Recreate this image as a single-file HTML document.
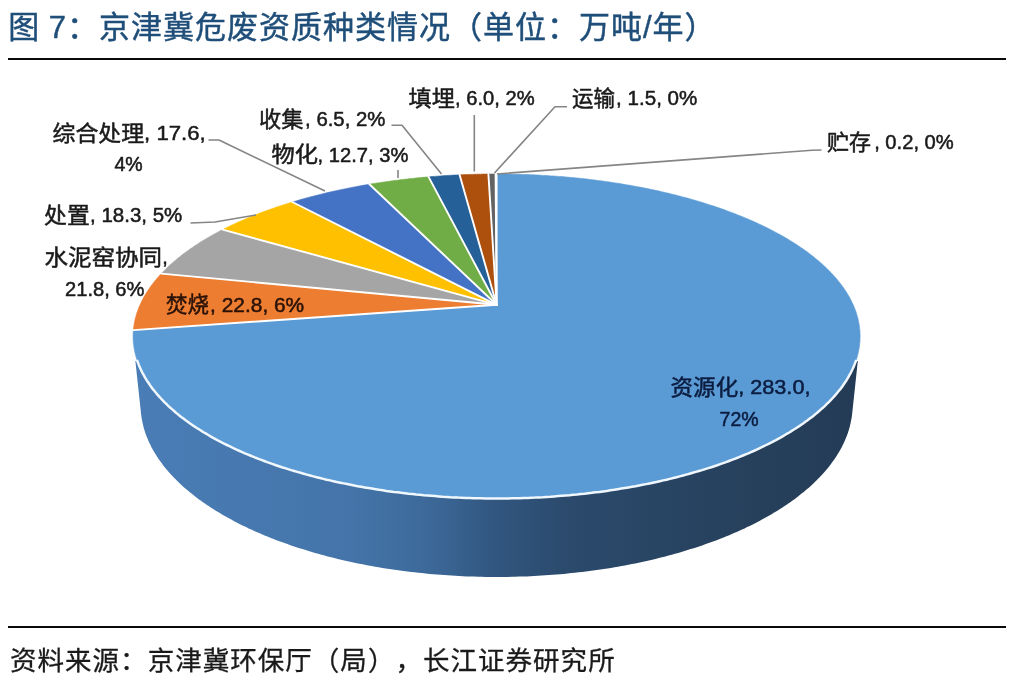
<!DOCTYPE html>
<html lang="zh-CN"><head><meta charset="utf-8"><title>图 7：京津冀危废资质种类情况</title>
<style>
html,body{margin:0;padding:0;background:#fff;}
body{width:1012px;height:680px;position:relative;overflow:hidden;font-family:"Liberation Sans","Noto Sans CJK SC",sans-serif;}
.title{position:absolute;left:8.3px;top:6px;font-size:31px;line-height:44px;color:#1f4e79;white-space:nowrap;letter-spacing:1px;text-spacing-trim:space-all;font-kerning:none;-webkit-text-stroke:0.45px #1f4e79;word-spacing:-1.2px;}
.rule{position:absolute;left:8px;width:998px;height:2px;background:#0a0a0a;}
.source{position:absolute;left:10px;top:643px;font-size:26.5px;line-height:36px;color:#1a1a1a;white-space:nowrap;letter-spacing:1.03px;text-spacing-trim:space-all;font-kerning:none;-webkit-text-stroke:0.3px #1a1a1a;}
svg{position:absolute;left:0;top:0;}
svg text{font-family:"Liberation Sans","Noto Sans CJK SC",sans-serif;font-size:19.2px;fill:#1a1a1a;}
svg text{stroke:#1a1a1a;stroke-width:0.5px;stroke-linejoin:round;}
svg .c{font-size:22px;stroke-width:0.5px;}
svg .l{font-size:19.9px;}
</style></head><body>
<div class="title">图 7：京津冀危废资质种类情况（单位：万吨/年）</div>
<div class="rule" style="top:58px"></div>
<svg width="1012" height="680" viewBox="0 0 1012 680">
<defs>
<linearGradient id="side" gradientUnits="userSpaceOnUse" x1="133" y1="0" x2="860" y2="0">
<stop offset="0" stop-color="#4a7db6"/>
<stop offset="0.3" stop-color="#4474a9"/>
<stop offset="0.4" stop-color="#3d6a9b"/>
<stop offset="0.5" stop-color="#31567f"/>
<stop offset="0.6" stop-color="#2b4a6c"/>
<stop offset="0.8" stop-color="#27425f"/>
<stop offset="1" stop-color="#243b55"/>
</linearGradient>
<clipPath id="sc"><rect x="0" y="361" width="1012" height="319"/></clipPath>
</defs>
<polygon points="133.1,335.7 133.1,334.3 133.2,332.9 133.3,331.4 133.4,330.0 133.5,328.6 133.7,327.1 133.9,325.7 134.1,324.3 134.3,322.9 134.6,321.5 134.9,320.1 135.2,318.6 135.6,317.2 136.0,315.8 136.4,314.4 136.8,313.1 137.3,311.7 137.8,310.3 138.3,308.9 138.8,307.5 139.4,306.2 140.0,304.8 140.6,303.4 141.3,302.1 141.9,300.7 142.6,299.4 143.3,298.1 144.1,296.7 144.8,295.4 145.6,294.1 146.4,292.7 147.3,291.4 148.1,290.1 149.0,288.8 149.9,287.5 150.8,286.2 151.8,284.9 152.8,283.6 153.7,282.4 154.8,281.1 155.8,279.8 156.8,278.6 157.9,277.3 159.0,276.1 160.2,274.8 161.3,273.6 162.5,272.4 163.7,271.1 164.9,269.9 166.1,268.7 167.3,267.5 168.6,266.3 169.9,265.1 171.2,263.9 172.5,262.8 173.9,261.6 175.2,260.4 176.6,259.3 178.0,258.1 179.4,257.0 180.9,255.8 182.3,254.7 183.8,253.6 185.3,252.5 186.8,251.4 188.3,250.3 189.9,249.2 191.5,248.1 193.0,247.0 194.6,245.9 196.2,244.9 197.9,243.8 199.5,242.8 201.2,241.7 202.9,240.7 204.6,239.6 206.3,238.6 208.0,237.6 209.7,236.6 211.5,235.6 213.3,234.6 215.1,233.6 216.9,232.7 218.7,231.7 220.5,230.7 222.3,229.8 224.2,228.8 226.1,227.9 228.0,226.9 229.9,226.0 231.8,225.1 233.7,224.2 235.7,223.3 237.6,222.4 239.6,221.5 241.6,220.6 245.6,218.9 247.6,218.1 249.6,217.2 251.6,216.4 253.7,215.6 255.8,214.7 257.8,213.9 259.9,213.1 262.0,212.3 264.1,211.5 266.2,210.7 268.4,210.0 270.5,209.2 272.7,208.4 277.0,206.9 279.2,206.2 281.4,205.5 283.6,204.8 285.8,204.1 288.0,203.4 290.3,202.7 292.5,202.0 294.8,201.3 297.0,200.7 299.3,200.0 301.6,199.3 303.9,198.7 306.1,198.1 308.4,197.4 310.8,196.8 313.1,196.2 317.7,195.0 320.1,194.4 322.4,193.8 324.8,193.3 329.5,192.2 331.9,191.6 334.3,191.1 336.7,190.5 339.1,190.0 341.5,189.5 346.4,188.5 348.8,188.0 351.2,187.6 353.6,187.1 356.1,186.6 358.6,186.2 361.0,185.7 363.5,185.3 365.9,184.8 368.4,184.4 370.9,184.0 373.4,183.6 375.9,183.2 378.4,182.8 380.9,182.4 385.9,181.7 390.9,181.0 395.9,180.3 398.5,180.0 401.0,179.7 403.6,179.4 406.1,179.1 408.6,178.8 411.2,178.6 416.3,178.0 421.4,177.5 424.0,177.3 426.6,177.0 429.1,176.8 431.7,176.6 436.9,176.2 439.4,176.0 442.0,175.8 444.6,175.7 447.2,175.5 452.4,175.2 455.0,175.1 457.6,174.9 460.1,174.8 465.4,174.6 467.9,174.5 470.6,174.4 473.1,174.3 475.8,174.3 481.0,174.2 486.2,174.1 488.8,174.0 491.4,174.0 494.0,174.0 496.6,174.0 499.2,174.0 501.8,174.0 504.4,174.0 507.0,174.1 512.2,174.2 517.4,174.3 520.0,174.3 522.6,174.4 527.9,174.6 533.0,174.8 535.6,174.9 538.2,175.1 540.8,175.2 546.0,175.5 548.6,175.7 551.2,175.8 553.8,176.0 556.4,176.2 561.5,176.6 564.1,176.8 566.6,177.0 569.2,177.3 571.8,177.5 574.3,177.8 576.9,178.0 582.0,178.6 584.6,178.8 587.1,179.1 589.6,179.4 592.2,179.7 594.7,180.0 597.2,180.3 602.3,181.0 607.3,181.7 612.3,182.4 614.8,182.8 617.3,183.2 619.8,183.6 622.3,184.0 624.8,184.4 627.3,184.8 629.7,185.3 632.2,185.7 634.6,186.2 637.1,186.6 639.5,187.1 642.0,187.6 646.9,188.5 651.7,189.5 654.1,190.0 656.5,190.5 658.9,191.1 661.3,191.6 663.7,192.2 668.4,193.3 670.8,193.8 673.1,194.4 675.5,195.0 680.1,196.2 682.4,196.8 684.8,197.4 689.4,198.7 691.6,199.3 693.9,200.0 696.2,200.7 698.4,201.3 700.7,202.0 702.9,202.7 705.2,203.4 707.4,204.1 709.6,204.8 711.8,205.5 714.0,206.2 716.2,206.9 720.5,208.4 722.7,209.2 724.8,210.0 727.0,210.7 729.1,211.5 731.2,212.3 733.3,213.1 735.4,213.9 737.4,214.7 739.5,215.6 741.6,216.4 743.6,217.2 745.6,218.1 747.6,218.9 751.6,220.6 753.6,221.5 755.6,222.4 757.5,223.3 759.5,224.2 761.4,225.1 763.3,226.0 765.2,226.9 767.1,227.9 769.0,228.8 770.9,229.8 772.7,230.7 774.5,231.7 776.3,232.7 778.1,233.6 779.9,234.6 781.7,235.6 783.5,236.6 785.2,237.6 786.9,238.6 788.6,239.6 790.3,240.7 792.0,241.7 793.7,242.8 795.3,243.8 797.0,244.9 798.6,245.9 800.2,247.0 801.7,248.1 803.3,249.2 804.9,250.3 806.4,251.4 807.9,252.5 809.4,253.6 810.9,254.7 812.3,255.8 813.8,257.0 815.2,258.1 816.6,259.3 818.0,260.4 819.3,261.6 820.7,262.8 822.0,263.9 823.3,265.1 824.6,266.3 825.9,267.5 827.1,268.7 828.3,269.9 829.5,271.1 830.7,272.4 831.9,273.6 833.0,274.8 834.2,276.1 835.3,277.3 836.4,278.6 837.4,279.8 838.4,281.1 839.5,282.4 840.5,283.6 841.4,284.9 842.4,286.2 843.3,287.5 844.2,288.8 845.1,290.1 845.9,291.4 846.8,292.7 847.6,294.1 848.4,295.4 849.1,296.7 849.9,298.1 850.6,299.4 851.3,300.7 851.9,302.1 852.6,303.4 853.2,304.8 853.8,306.2 854.4,307.5 854.9,308.9 855.4,310.3 855.9,311.7 856.4,313.1 856.8,314.4 857.2,315.8 857.6,317.2 858.0,318.6 858.3,320.1 858.6,321.5 858.9,322.9 859.1,324.3 859.3,325.7 859.5,327.1 859.7,328.6 859.8,330.0 859.9,331.4 860.0,332.9 860.1,334.3 860.1,335.7 860.1,337.2 860.0,338.6 860.0,340.1 859.9,341.5 859.8,343.0 859.6,344.4 852.1,414.3 851.9,415.8 851.7,417.4 851.4,418.9 851.1,420.4 850.8,422.0 850.5,423.6 850.1,425.1 849.8,426.7 849.3,428.2 848.9,429.8 848.4,431.3 847.9,432.9 847.3,434.4 846.8,436.0 846.1,437.6 845.5,439.1 844.8,440.7 844.1,442.2 843.4,443.8 842.6,445.3 841.9,446.9 841.0,448.4 840.2,450.0 839.3,451.5 838.4,453.1 837.4,454.6 836.4,456.2 835.4,457.7 834.4,459.2 833.3,460.8 832.2,462.3 831.1,463.8 829.9,465.4 828.7,466.9 827.5,468.4 826.2,469.9 824.9,471.5 823.6,473.0 822.2,474.5 820.8,476.0 819.4,477.5 817.9,479.0 816.4,480.5 814.9,481.9 813.4,483.4 811.8,484.9 810.2,486.4 808.5,487.9 806.8,489.3 805.1,490.8 803.4,492.2 801.6,493.6 799.8,495.1 798.0,496.5 796.1,497.9 794.2,499.4 792.2,500.8 790.3,502.2 788.3,503.6 786.2,504.9 784.2,506.3 782.1,507.7 780.0,509.1 777.8,510.4 775.6,511.8 773.4,513.1 771.2,514.4 768.9,515.7 766.6,517.0 764.3,518.3 761.9,519.6 759.5,520.9 757.1,522.2 754.7,523.4 752.2,524.7 749.7,525.9 747.1,527.1 744.6,528.4 742.0,529.6 739.4,530.8 736.7,531.9 734.0,533.1 731.3,534.3 728.6,535.4 725.8,536.5 723.0,537.7 720.2,538.8 717.4,539.9 714.5,541.0 711.6,542.0 708.7,543.1 705.8,544.1 702.8,545.2 699.8,546.2 696.8,547.2 693.8,548.2 690.7,549.1 687.6,550.1 684.5,551.0 681.4,552.0 678.2,552.9 675.0,553.8 671.8,554.7 668.6,555.5 665.4,556.4 662.1,557.2 658.8,558.1 655.5,558.9 652.2,559.7 648.9,560.4 645.5,561.2 642.1,561.9 638.7,562.7 635.3,563.4 631.9,564.1 628.4,564.7 625.0,565.4 621.5,566.0 618.0,566.7 614.5,567.3 610.9,567.9 607.4,568.4 603.8,569.0 600.3,569.5 596.7,570.0 593.1,570.5 589.5,571.0 585.9,571.5 582.2,571.9 578.6,572.3 574.9,572.8 571.3,573.1 567.6,573.5 563.9,573.9 560.2,574.2 556.5,574.5 552.8,574.8 549.1,575.1 545.4,575.3 541.6,575.6 537.9,575.8 534.2,576.0 530.4,576.2 526.7,576.4 522.9,576.5 519.2,576.6 515.4,576.7 511.7,576.8 507.9,576.9 504.1,576.9 500.4,577.0 496.6,577.0 492.8,577.0 489.1,576.9 485.3,576.9 481.5,576.8 477.8,576.7 474.0,576.6 470.3,576.5 466.5,576.4 462.8,576.2 459.0,576.0 455.3,575.8 451.6,575.6 447.8,575.3 444.1,575.1 440.4,574.8 436.7,574.5 433.0,574.2 429.3,573.9 425.6,573.5 421.9,573.1 418.3,572.8 414.6,572.3 411.0,571.9 407.3,571.5 403.7,571.0 400.1,570.5 396.5,570.0 392.9,569.5 389.4,569.0 385.8,568.4 382.3,567.9 378.7,567.3 375.2,566.7 371.7,566.0 368.2,565.4 364.8,564.7 361.3,564.1 357.9,563.4 354.5,562.7 351.1,561.9 347.7,561.2 344.3,560.4 341.0,559.7 337.7,558.9 334.4,558.1 331.1,557.2 327.8,556.4 324.6,555.5 321.4,554.7 318.2,553.8 315.0,552.9 311.8,552.0 308.7,551.0 305.6,550.1 302.5,549.1 299.4,548.2 296.4,547.2 293.4,546.2 290.4,545.2 287.4,544.1 284.5,543.1 281.6,542.0 278.7,541.0 275.8,539.9 273.0,538.8 270.2,537.7 267.4,536.5 264.6,535.4 261.9,534.3 259.2,533.1 256.5,531.9 253.8,530.8 251.2,529.6 248.6,528.4 246.1,527.1 243.5,525.9 241.0,524.7 238.5,523.4 236.1,522.2 233.7,520.9 231.3,519.6 228.9,518.3 226.6,517.0 224.3,515.7 222.0,514.4 219.8,513.1 217.6,511.8 215.4,510.4 213.2,509.1 211.1,507.7 209.0,506.3 206.9,504.9 204.9,503.6 202.9,502.2 201.0,500.8 199.0,499.4 197.1,497.9 195.2,496.5 193.4,495.1 191.6,493.6 189.8,492.2 188.1,490.8 186.4,489.3 184.7,487.9 183.0,486.4 181.4,484.9 179.8,483.4 178.3,481.9 176.8,480.5 175.3,479.0 173.8,477.5 172.4,476.0 171.0,474.5 169.6,473.0 168.3,471.5 167.0,469.9 165.7,468.4 164.5,466.9 163.3,465.4 162.1,463.8 161.0,462.3 159.9,460.8 158.8,459.2 157.8,457.7 156.8,456.2 155.8,454.6 154.8,453.1 153.9,451.5 153.0,450.0 152.2,448.4 151.3,446.9 150.6,445.3 149.8,443.8 149.1,442.2 148.4,440.7 147.7,439.1 147.1,437.6 146.4,436.0 145.9,434.4 145.3,432.9 144.8,431.3 144.3,429.8 143.9,428.2 143.4,426.7 143.1,425.1 142.7,423.6 142.4,422.0 142.1,420.4 141.8,418.9 141.5,417.4 141.3,415.8 141.1,414.3 133.6,344.4 133.4,343.0 133.3,341.5 133.2,340.1 133.2,338.6 133.1,337.2" fill="url(#side)" clip-path="url(#sc)"/>
<polygon points="496.6,304.8 496.6,174.0 499.2,174.0 501.8,174.0 504.4,174.0 507.0,174.1 509.7,174.1 512.3,174.2 514.9,174.2 517.5,174.3 520.1,174.3 522.7,174.4 525.3,174.5 527.9,174.6 530.5,174.7 533.1,174.8 535.7,174.9 538.3,175.1 540.9,175.2 543.5,175.4 546.1,175.5 548.7,175.7 551.3,175.9 553.9,176.0 556.5,176.2 559.0,176.4 561.6,176.6 564.2,176.8 566.8,177.1 569.3,177.3 571.9,177.5 574.5,177.8 577.0,178.0 579.6,178.3 582.2,178.6 584.7,178.8 587.3,179.1 589.8,179.4 592.3,179.7 594.9,180.0 597.4,180.4 600.0,180.7 602.5,181.0 605.0,181.4 607.5,181.7 610.0,182.1 612.5,182.5 615.0,182.9 617.5,183.2 620.0,183.6 622.5,184.1 625.0,184.5 627.5,184.9 630.0,185.3 632.4,185.8 634.9,186.2 637.3,186.7 639.8,187.1 642.2,187.6 644.7,188.1 647.1,188.6 649.5,189.1 651.9,189.6 654.4,190.1 656.8,190.6 659.2,191.1 661.6,191.7 663.9,192.2 666.3,192.8 668.7,193.3 671.0,193.9 673.4,194.5 675.8,195.1 678.1,195.7 680.4,196.3 682.7,196.9 685.1,197.5 687.4,198.1 689.7,198.8 692.0,199.4 694.2,200.1 696.5,200.7 698.8,201.4 701.0,202.1 703.3,202.8 705.5,203.5 707.7,204.2 709.9,204.9 712.1,205.6 714.3,206.3 716.5,207.1 718.7,207.8 720.9,208.6 723.0,209.3 725.2,210.1 727.3,210.9 729.4,211.7 731.5,212.4 733.6,213.2 735.7,214.1 737.8,214.9 739.9,215.7 741.9,216.5 744.0,217.4 746.0,218.2 748.0,219.1 750.0,219.9 752.0,220.8 754.0,221.7 756.0,222.6 757.9,223.5 759.9,224.4 761.8,225.3 763.7,226.2 765.6,227.1 767.5,228.1 769.4,229.0 771.2,230.0 773.1,230.9 774.9,231.9 776.7,232.9 778.5,233.8 780.3,234.8 782.1,235.8 783.8,236.8 785.6,237.8 787.3,238.8 789.0,239.9 790.7,240.9 792.4,241.9 794.1,243.0 795.7,244.0 797.3,245.1 798.9,246.2 800.5,247.3 802.1,248.3 803.7,249.4 805.2,250.5 806.8,251.6 808.3,252.7 809.8,253.9 811.2,255.0 812.7,256.1 814.1,257.3 815.5,258.4 816.9,259.6 818.3,260.7 819.7,261.9 821.0,263.1 822.3,264.3 823.7,265.4 824.9,266.6 826.2,267.8 827.4,269.0 828.7,270.3 829.9,271.5 831.1,272.7 832.2,273.9 833.4,275.2 834.5,276.4 835.6,277.7 836.7,278.9 837.7,280.2 838.7,281.5 839.8,282.7 840.7,284.0 841.7,285.3 842.6,286.6 843.6,287.9 844.5,289.2 845.3,290.5 846.2,291.8 847.0,293.1 847.8,294.5 848.6,295.8 849.4,297.1 850.1,298.5 850.8,299.8 851.5,301.2 852.1,302.5 852.8,303.9 853.4,305.2 854.0,306.6 854.5,308.0 855.1,309.4 855.6,310.7 856.1,312.1 856.5,313.5 856.9,314.9 857.3,316.3 857.7,317.7 858.1,319.1 858.4,320.5 858.7,321.9 858.9,323.4 859.2,324.8 859.4,326.2 859.6,327.6 859.7,329.1 859.9,330.5 860.0,331.9 860.0,333.4 860.1,334.8 860.1,336.3 860.1,337.7 860.0,339.2 860.0,340.6 859.9,342.1 859.7,343.5 859.6,345.0 859.4,346.4 859.2,347.9 858.9,349.4 858.6,350.8 858.3,352.3 858.0,353.8 857.6,355.2 857.2,356.7 856.8,358.2 856.3,359.6 855.8,361.1 855.3,362.6 854.7,364.0 854.1,365.5 853.5,367.0 852.9,368.5 852.2,369.9 851.5,371.4 850.7,372.9 849.9,374.3 849.1,375.8 848.3,377.3 847.4,378.7 846.5,380.2 845.6,381.7 844.6,383.1 843.6,384.6 842.5,386.1 841.5,387.5 840.4,389.0 839.2,390.4 838.1,391.9 836.9,393.3 835.6,394.8 834.4,396.2 833.1,397.6 831.7,399.1 830.4,400.5 829.0,401.9 827.5,403.4 826.1,404.8 824.6,406.2 823.0,407.6 821.5,409.0 819.9,410.4 818.3,411.8 816.6,413.2 814.9,414.6 813.2,416.0 811.4,417.3 809.6,418.7 807.8,420.1 805.9,421.4 804.1,422.8 802.1,424.1 800.2,425.5 798.2,426.8 796.2,428.1 794.1,429.5 792.0,430.8 789.9,432.1 787.8,433.4 785.6,434.7 783.4,435.9 781.1,437.2 778.9,438.5 776.6,439.7 774.2,441.0 771.9,442.2 769.5,443.4 767.0,444.7 764.6,445.9 762.1,447.1 759.6,448.3 757.0,449.4 754.4,450.6 751.8,451.8 749.2,452.9 746.5,454.1 743.8,455.2 741.1,456.3 738.3,457.4 735.5,458.5 732.7,459.6 729.9,460.7 727.0,461.7 724.1,462.8 721.2,463.8 718.3,464.8 715.3,465.8 712.3,466.8 709.3,467.8 706.2,468.8 703.1,469.8 700.0,470.7 696.9,471.6 693.7,472.6 690.6,473.5 687.4,474.4 684.1,475.2 680.9,476.1 677.6,476.9 674.3,477.8 671.0,478.6 667.7,479.4 664.3,480.2 660.9,481.0 657.5,481.7 654.1,482.5 650.7,483.2 647.2,483.9 643.7,484.6 640.3,485.3 636.7,485.9 633.2,486.6 629.7,487.2 626.1,487.8 622.5,488.4 618.9,489.0 615.3,489.6 611.7,490.1 608.0,490.7 604.4,491.2 600.7,491.7 597.0,492.2 593.3,492.6 589.6,493.1 585.9,493.5 582.1,493.9 578.4,494.3 574.6,494.7 570.9,495.1 567.1,495.4 563.3,495.7 559.5,496.0 555.7,496.3 551.9,496.6 548.1,496.9 544.2,497.1 540.4,497.3 536.6,497.5 532.7,497.7 528.9,497.9 525.0,498.0 521.2,498.1 517.3,498.2 513.5,498.3 509.6,498.4 505.7,498.4 501.9,498.5 498.0,498.5 494.1,498.5 490.3,498.5 486.4,498.4 482.5,498.4 478.7,498.3 474.8,498.2 471.0,498.1 467.1,498.0 463.2,497.8 459.4,497.6 455.6,497.5 451.7,497.3 447.9,497.0 444.1,496.8 440.3,496.5 436.4,496.3 432.6,496.0 428.9,495.6 425.1,495.3 421.3,495.0 417.5,494.6 413.8,494.2 410.0,493.8 406.3,493.4 402.6,493.0 398.9,492.5 395.2,492.0 391.5,491.6 387.8,491.1 384.2,490.5 380.5,490.0 376.9,489.4 373.3,488.9 369.7,488.3 366.1,487.7 362.6,487.1 359.0,486.4 355.5,485.8 352.0,485.1 348.5,484.4 345.0,483.7 341.6,483.0 338.1,482.3 334.7,481.5 331.3,480.7 327.9,480.0 324.6,479.2 321.3,478.4 318.0,477.5 314.7,476.7 311.4,475.9 308.2,475.0 304.9,474.1 301.8,473.2 298.6,472.3 295.4,471.4 292.3,470.4 289.2,469.5 286.1,468.5 283.1,467.6 280.1,466.6 277.1,465.6 274.1,464.6 271.2,463.5 268.3,462.5 265.4,461.4 262.5,460.4 259.7,459.3 256.9,458.2 254.1,457.1 251.4,456.0 248.6,454.9 246.0,453.8 243.3,452.6 240.7,451.5 238.1,450.3 235.5,449.1 232.9,447.9 230.4,446.7 228.0,445.5 225.5,444.3 223.1,443.1 220.7,441.9 218.3,440.6 216.0,439.4 213.7,438.1 211.4,436.9 209.2,435.6 207.0,434.3 204.8,433.0 202.7,431.7 200.6,430.4 198.5,429.1 196.5,427.8 194.5,426.4 192.5,425.1 190.5,423.8 188.6,422.4 186.7,421.1 184.9,419.7 183.1,418.3 181.3,417.0 179.5,415.6 177.8,414.2 176.1,412.8 174.5,411.4 172.9,410.0 171.3,408.6 169.7,407.2 168.2,405.8 166.7,404.4 165.3,403.0 163.8,401.5 162.4,400.1 161.1,398.7 159.8,397.2 158.5,395.8 157.2,394.4 156.0,392.9 154.8,391.5 153.6,390.0 152.5,388.6 151.4,387.1 150.4,385.7 149.3,384.2 148.3,382.7 147.4,381.3 146.4,379.8 145.6,378.3 144.7,376.9 143.9,375.4 143.0,373.9 142.3,372.5 141.5,371.0 140.8,369.5 140.2,368.1 139.5,366.6 138.9,365.1 138.3,363.6 137.8,362.2 137.3,360.7 136.8,359.2 136.3,357.8 135.9,356.3 135.5,354.8 135.1,353.3 134.8,351.9 134.5,350.4 134.2,348.9 134.0,347.5 133.8,346.0 133.6,344.6 133.4,343.1 133.3,341.7 133.2,340.2 133.1,338.8 133.1,337.3 133.1,335.9 133.1,334.4 133.2,333.0 133.3,331.5 133.4,330.1" fill="#5b9bd5" stroke="#5b9bd5" stroke-width="0.6" stroke-linejoin="round"/>
<polygon points="496.6,304.8 133.4,330.1 133.5,328.7 133.7,327.2 133.9,325.8 134.1,324.4 134.3,323.0 134.6,321.6 134.9,320.1 135.2,318.7 135.6,317.3 136.0,315.9 136.4,314.5 136.8,313.1 137.3,311.8 137.8,310.4 138.3,309.0 138.8,307.6 139.4,306.2 140.0,304.9 140.6,303.5 141.2,302.2 141.9,300.8 142.6,299.5 143.3,298.1 144.0,296.8 144.8,295.4 145.6,294.1 146.4,292.8 147.2,291.5 148.1,290.2 149.0,288.9 149.9,287.6 150.8,286.3 151.7,285.0 152.7,283.7 153.7,282.4 154.7,281.1 155.8,279.9 156.8,278.6 157.9,277.4 159.0,276.1 160.1,274.9 161.3,273.6" fill="#ed7d31" stroke="#ed7d31" stroke-width="0.6" stroke-linejoin="round"/>
<polygon points="496.6,304.8 161.3,273.6 162.4,272.4 163.6,271.2 164.9,269.9 166.1,268.7 167.3,267.5 168.6,266.3 169.9,265.1 171.2,263.9 172.6,262.7 173.9,261.6 175.3,260.4 176.7,259.2 178.1,258.1 179.5,256.9 181.0,255.8 182.4,254.6 183.9,253.5 185.4,252.4 186.9,251.3 188.5,250.2 190.0,249.1 191.6,248.0 193.2,246.9 194.8,245.8 196.4,244.8 198.1,243.7 199.7,242.6 201.4,241.6 203.1,240.5 204.8,239.5 206.5,238.5 208.2,237.5 210.0,236.5 211.8,235.5 213.5,234.5 215.3,233.5 217.2,232.5 219.0,231.5 220.8,230.5 222.7,229.6" fill="#a5a5a5" stroke="#a5a5a5" stroke-width="0.6" stroke-linejoin="round"/>
<polygon points="496.6,304.8 222.7,229.6 224.6,228.6 226.5,227.7 228.4,226.7 230.4,225.8 232.4,224.8 234.3,223.9 236.3,223.0 238.3,222.1 240.3,221.2 242.4,220.3 244.4,219.4 246.5,218.5 248.5,217.7 250.6,216.8 252.7,215.9 254.8,215.1 256.9,214.3 259.1,213.4 261.2,212.6 263.4,211.8 265.5,211.0 267.7,210.2 269.9,209.4 272.1,208.7 274.3,207.9 276.5,207.1 278.7,206.4 281.0,205.6 283.2,204.9 285.5,204.2 287.8,203.5 290.1,202.7 292.3,202.0" fill="#ffc000" stroke="#ffc000" stroke-width="0.6" stroke-linejoin="round"/>
<polygon points="496.6,304.8 292.3,202.0 294.6,201.4 296.9,200.7 299.2,200.0 301.5,199.3 303.9,198.7 306.2,198.0 308.5,197.4 310.9,196.8 313.2,196.2 315.6,195.6 318.0,195.0 320.3,194.4 322.7,193.8 325.1,193.2 327.5,192.6 329.9,192.1 332.3,191.5 334.8,191.0 337.2,190.4 339.6,189.9 342.1,189.4 344.5,188.9 347.0,188.4 349.4,187.9 351.9,187.4 354.4,186.9 356.9,186.5 359.4,186.0 361.9,185.6 364.4,185.1 366.9,184.7 369.4,184.3" fill="#4472c4" stroke="#4472c4" stroke-width="0.6" stroke-linejoin="round"/>
<polygon points="496.6,304.8 369.4,184.3 371.9,183.8 374.4,183.4 377.0,183.0 379.5,182.7 382.1,182.3 384.6,181.9 387.2,181.5 389.7,181.2 392.3,180.8 394.9,180.5 397.4,180.2 400.0,179.8 402.6,179.5 405.2,179.2 407.8,178.9 410.4,178.6 413.0,178.4 415.6,178.1 418.2,177.8 420.8,177.6 423.4,177.3 426.0,177.1 428.6,176.9" fill="#70ad47" stroke="#70ad47" stroke-width="0.6" stroke-linejoin="round"/>
<polygon points="496.6,304.8 428.6,176.9 431.4,176.6 434.3,176.4 437.1,176.2 439.9,176.0 442.7,175.8 445.5,175.6 448.3,175.4 451.2,175.3 454.0,175.1 456.8,175.0 459.6,174.8" fill="#256098" stroke="#256098" stroke-width="0.6" stroke-linejoin="round"/>
<polygon points="496.6,304.8 459.6,174.8 462.2,174.7 464.9,174.6 467.5,174.5 470.1,174.4 472.7,174.4 475.3,174.3 477.9,174.2 480.6,174.2 483.2,174.1 485.8,174.1 488.4,174.0" fill="#ad500d" stroke="#ad500d" stroke-width="0.6" stroke-linejoin="round"/>
<polygon points="496.6,304.8 488.4,174.0 492.0,174.0 495.6,174.0" fill="#636363" stroke="#636363" stroke-width="0.6" stroke-linejoin="round"/>
<polygon points="496.6,304.8 495.6,174.0 496.6,174.0" fill="#997300" stroke="#997300" stroke-width="0.6" stroke-linejoin="round"/>
<line x1="496.6" y1="304.8" x2="496.6" y2="174.0" stroke="#fff" stroke-width="1.9" stroke-linecap="round"/>
<line x1="496.6" y1="304.8" x2="133.4" y2="330.1" stroke="#fff" stroke-width="1.9" stroke-linecap="round"/>
<line x1="496.6" y1="304.8" x2="161.3" y2="273.6" stroke="#fff" stroke-width="1.9" stroke-linecap="round"/>
<line x1="496.6" y1="304.8" x2="222.7" y2="229.6" stroke="#fff" stroke-width="1.9" stroke-linecap="round"/>
<line x1="496.6" y1="304.8" x2="292.3" y2="202.0" stroke="#fff" stroke-width="1.9" stroke-linecap="round"/>
<line x1="496.6" y1="304.8" x2="369.4" y2="184.3" stroke="#fff" stroke-width="1.9" stroke-linecap="round"/>
<line x1="496.6" y1="304.8" x2="428.6" y2="176.9" stroke="#fff" stroke-width="1.9" stroke-linecap="round"/>
<line x1="496.6" y1="304.8" x2="459.6" y2="174.8" stroke="#fff" stroke-width="1.9" stroke-linecap="round"/>
<line x1="496.6" y1="304.8" x2="488.4" y2="174.0" stroke="#fff" stroke-width="1.9" stroke-linecap="round"/>
<line x1="496.6" y1="304.8" x2="495.6" y2="174.0" stroke="#fff" stroke-width="1.9" stroke-linecap="round"/>
<polyline points="856.2,360.0 855.7,361.5 855.1,362.9 854.6,364.4 854.0,365.9 853.3,367.4 852.7,368.8 852.0,370.3 851.3,371.8 850.5,373.3 849.7,374.7 848.9,376.2 848.1,377.7 847.2,379.1 846.3,380.6 845.3,382.1 844.3,383.5 843.3,385.0 842.3,386.4 841.2,387.9 840.1,389.4 838.9,390.8 837.7,392.3 836.5,393.7 835.3,395.2 834.0,396.6 832.7,398.0 831.4,399.5 830.0,400.9 828.6,402.3 827.1,403.7 825.7,405.2 824.2,406.6 822.6,408.0 821.0,409.4 819.4,410.8 817.8,412.2 816.1,413.6 814.4,415.0 812.7,416.4 810.9,417.7 809.1,419.1 807.3,420.5 805.4,421.8 803.5,423.2 801.6,424.5 799.6,425.9 797.6,427.2 795.6,428.5 793.5,429.8 791.4,431.1 789.3,432.5 787.1,433.7 784.9,435.0 782.7,436.3 780.5,437.6 778.2,438.8 775.9,440.1 773.5,441.3 771.1,442.6 768.7,443.8 766.3,445.0 763.8,446.2 761.3,447.4 758.8,448.6 756.2,449.8 753.6,451.0 751.0,452.1 748.4,453.3 745.7,454.4 743.0,455.5 740.2,456.7 737.5,457.8 734.7,458.8 731.9,459.9 729.0,461.0 726.1,462.1 723.2,463.1 720.3,464.1 717.3,465.2 714.3,466.2 711.3,467.2 708.3,468.1 705.2,469.1 702.1,470.1 699.0,471.0 695.9,471.9 692.7,472.8 689.5,473.7 686.3,474.6 683.1,475.5 679.8,476.4 676.6,477.2 673.3,478.0 669.9,478.9 666.6,479.7 663.2,480.4 659.8,481.2 656.4,482.0 653.0,482.7 649.5,483.4 646.1,484.1 642.6,484.8 639.1,485.5 635.6,486.2 632.0,486.8 628.5,487.4 624.9,488.0 621.3,488.6 617.7,489.2 614.1,489.8 610.4,490.3 606.8,490.9 603.1,491.4 599.4,491.9 595.7,492.3 592.0,492.8 588.3,493.2 584.6,493.7 580.8,494.1 577.1,494.5 573.3,494.8 569.6,495.2 565.8,495.5 562.0,495.8 558.2,496.1 554.4,496.4 550.5,496.7 546.7,496.9 542.9,497.2 539.1,497.4 535.2,497.6 531.4,497.7 527.5,497.9 523.7,498.0 519.8,498.2 515.9,498.3 512.1,498.3 508.2,498.4 504.3,498.5 500.5,498.5 496.6,498.5 492.7,498.5 488.9,498.5 485.0,498.4 481.1,498.3 477.3,498.3 473.4,498.2 469.5,498.0 465.7,497.9 461.8,497.7 458.0,497.6 454.1,497.4 450.3,497.2 446.5,496.9 442.7,496.7 438.8,496.4 435.0,496.1 431.2,495.8 427.4,495.5 423.6,495.2 419.9,494.8 416.1,494.5 412.4,494.1 408.6,493.7 404.9,493.2 401.2,492.8 397.5,492.3 393.8,491.9 390.1,491.4 386.4,490.9 382.8,490.3 379.1,489.8 375.5,489.2 371.9,488.6 368.3,488.0 364.7,487.4 361.2,486.8 357.6,486.2 354.1,485.5 350.6,484.8 347.1,484.1 343.7,483.4 340.2,482.7 336.8,482.0 333.4,481.2 330.0,480.4 326.6,479.7 323.3,478.9 319.9,478.0 316.6,477.2 313.4,476.4 310.1,475.5 306.9,474.6 303.7,473.7 300.5,472.8 297.3,471.9 294.2,471.0 291.1,470.1 288.0,469.1 284.9,468.1 281.9,467.2 278.9,466.2 275.9,465.2 272.9,464.1 270.0,463.1 267.1,462.1 264.2,461.0 261.3,459.9 258.5,458.8 255.7,457.8 253.0,456.7 250.2,455.5 247.5,454.4 244.8,453.3 242.2,452.1 239.6,451.0 237.0,449.8 234.4,448.6 231.9,447.4 229.4,446.2 226.9,445.0 224.5,443.8 222.1,442.6 219.7,441.3 217.3,440.1 215.0,438.8 212.7,437.6 210.5,436.3 208.3,435.0 206.1,433.7 203.9,432.5 201.8,431.1 199.7,429.8 197.6,428.5 195.6,427.2 193.6,425.9 191.6,424.5 189.7,423.2 187.8,421.8 185.9,420.5 184.1,419.1 182.3,417.7 180.5,416.4 178.8,415.0 177.1,413.6 175.4,412.2 173.8,410.8 172.2,409.4 170.6,408.0 169.0,406.6 167.5,405.2 166.1,403.7 164.6,402.3 163.2,400.9 161.8,399.5 160.5,398.0 159.2,396.6 157.9,395.2 156.7,393.7 155.5,392.3 154.3,390.8 153.1,389.4 152.0,387.9 150.9,386.4 149.9,385.0 148.9,383.5 147.9,382.1 146.9,380.6 146.0,379.1 145.1,377.7 144.3,376.2 143.5,374.7 142.7,373.3 141.9,371.8 141.2,370.3 140.5,368.8 139.9,367.4 139.2,365.9 138.6,364.4 138.1,362.9 137.5,361.5 137.0,360.0" fill="none" stroke="#f6fbff" stroke-width="2.5" stroke-opacity="0.97"/>
<polyline points="208.5,140.0 219.0,140.0 325.0,191.0" fill="none" stroke="#858585" stroke-width="1.6" stroke-linejoin="round"/>
<polyline points="190.5,223.0 215.0,222.0 256.0,215.0" fill="none" stroke="#858585" stroke-width="1.6" stroke-linejoin="round"/>
<polyline points="391.5,125.2 402.0,125.2 441.5,174.0" fill="none" stroke="#858585" stroke-width="1.6" stroke-linejoin="round"/>
<polyline points="398.0,170.0 398.0,178.0" fill="none" stroke="#858585" stroke-width="1.6" stroke-linejoin="round"/>
<polyline points="474.3,115.0 474.3,171.5" fill="none" stroke="#858585" stroke-width="1.6" stroke-linejoin="round"/>
<polyline points="567.0,106.7 555.0,106.7 494.5,173.0" fill="none" stroke="#858585" stroke-width="1.6" stroke-linejoin="round"/>
<polyline points="821.5,150.0 812.0,150.3 497.0,174.0" fill="none" stroke="#858585" stroke-width="1.6" stroke-linejoin="round"/>
<text id="L0" class="c" x="408.54" y="105.9" textLength="46.36" lengthAdjust="spacingAndGlyphs">填埋</text>
<text id="L1" class="l" x="455.10" y="105.2" textLength="79.60" lengthAdjust="spacingAndGlyphs">, 6.0, 2%</text>
<text id="L2" class="c" x="572.00" y="105.9" textLength="42.94" lengthAdjust="spacingAndGlyphs">运输</text>
<text id="L3" class="l" x="616.14" y="105.2" textLength="81.22" lengthAdjust="spacingAndGlyphs">, 1.5, 0%</text>
<text id="L4" class="c" x="259.08" y="126.8" textLength="44.38" lengthAdjust="spacingAndGlyphs">收集</text>
<text id="L5" class="l" x="305.10" y="126.1" textLength="80.32" lengthAdjust="spacingAndGlyphs">, 6.5, 2%</text>
<text id="L6" class="c" x="52.50" y="140.7" textLength="91.62" lengthAdjust="spacingAndGlyphs">综合处理</text>
<text id="L7" class="l" x="144.10" y="140.0" textLength="61.60" lengthAdjust="spacingAndGlyphs">, 17.6,</text>
<text id="L8" class="l" x="114.52" y="170.9" textLength="28.21" lengthAdjust="spacingAndGlyphs">4%</text>
<text id="L9" class="c" x="271.48" y="162.4" textLength="46.54" lengthAdjust="spacingAndGlyphs">物化</text>
<text id="L10" class="l" x="317.62" y="161.7" textLength="90.84" lengthAdjust="spacingAndGlyphs">, 12.7, 3%</text>
<text id="L11" class="c" x="827.06" y="150.1" textLength="44.02" lengthAdjust="spacingAndGlyphs">贮存</text>
<text id="L12" class="l" x="874.16" y="149.4" textLength="79.60" lengthAdjust="spacingAndGlyphs">, 0.2, 0%</text>
<text id="L13" class="c" x="44.02" y="222.7" textLength="45.82" lengthAdjust="spacingAndGlyphs">处置</text>
<text id="L14" class="l" x="90.14" y="222.0" textLength="92.10" lengthAdjust="spacingAndGlyphs">, 18.3, 5%</text>
<text id="L15" class="c" x="44.56" y="265.0" textLength="117.58" lengthAdjust="spacingAndGlyphs">水泥窑协同</text>
<text id="L16" class="l" x="162.14" y="264.3">,</text>
<text id="L17" class="l" x="65.04" y="295.7" textLength="79.42" lengthAdjust="spacingAndGlyphs">21.8, 6%</text>
<text id="L18" class="c" x="166.00" y="312.3" textLength="42.94" lengthAdjust="spacingAndGlyphs" style="fill:#2a1208;stroke:#2a1208">焚烧</text>
<text id="L19" class="l" x="210.14" y="311.6" textLength="94.08" lengthAdjust="spacingAndGlyphs" style="fill:#2a1208;stroke:#2a1208">, 22.8, 6%</text>
<text id="L20" class="c" x="670.58" y="394.8" textLength="67.64" lengthAdjust="spacingAndGlyphs" style="fill:#0c1d40;stroke:#0c1d40">资源化</text>
<text id="L21" class="l" x="738.18" y="394.1" textLength="72.30" lengthAdjust="spacingAndGlyphs" style="fill:#0c1d40;stroke:#0c1d40">, 283.0,</text>
<text id="L22" class="l" x="719.58" y="425.8" textLength="39.09" lengthAdjust="spacingAndGlyphs" style="fill:#0c1d40;stroke:#0c1d40">72%</text>
</svg>
<div class="rule" style="top:626px"></div>
<div class="source">资料来源：京津冀环保厅（局），长江证券研究所</div>
</body></html>
